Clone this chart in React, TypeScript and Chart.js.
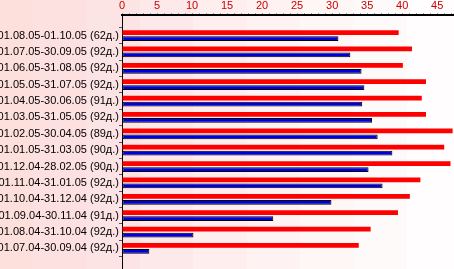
import React, { useEffect, useRef } from "react";
import { Chart, registerables } from "chart.js";

Chart.register(...registerables);

const periods: string[] = [
  "01.08.05-01.10.05 (62д.)",
  "01.07.05-30.09.05 (92д.)",
  "01.06.05-31.08.05 (92д.)",
  "01.05.05-31.07.05 (92д.)",
  "01.04.05-30.06.05 (91д.)",
  "01.03.05-31.05.05 (92д.)",
  "01.02.05-30.04.05 (89д.)",
  "01.01.05-31.03.05 (90д.)",
  "01.12.04-28.02.05 (90д.)",
  "01.11.04-31.01.05 (92д.)",
  "01.10.04-31.12.04 (92д.)",
  "01.09.04-30.11.04 (91д.)",
  "01.08.04-31.10.04 (92д.)",
  "01.07.04-30.09.04 (92д.)",
];

const redValues: number[] = [39.5, 41.4, 40.1, 43.4, 42.8, 43.4, 47.2, 46.0, 46.9, 42.6, 41.1, 39.4, 35.5, 33.8];
const blueValues: number[] = [30.9, 32.6, 34.2, 34.6, 34.3, 35.7, 36.5, 38.6, 35.2, 37.2, 29.9, 21.6, 10.2, 3.9];

const xMin = 0;
const xMax = 47.4;

const bandColors: string[] = [
  "#fde0dc",
  "#fde0e0",
  "#fde4e4",
  "#fde9e9",
  "#feeeee",
  "#fff2f2",
  "#fff6f6",
  "#fffafa",
  "#fffdfd",
];
const bandEdges: number[] = [0, 33, 87, 140, 193, 247, 300, 353, 407, 454];

const bgPlugin = {
  id: "bgBands",
  beforeDraw(chart: any) {
    const ctx = chart.ctx;
    ctx.save();
    for (let i = 0; i < bandColors.length; i++) {
      ctx.fillStyle = bandColors[i];
      ctx.fillRect(bandEdges[i], 0, bandEdges[i + 1] - bandEdges[i], chart.height);
    }
    ctx.restore();
  },
};

export default function App() {
  const ref = useRef<HTMLCanvasElement | null>(null);
  useEffect(() => {
    if (!ref.current) return;
    const chart = new Chart(ref.current, {
      type: "bar",
      data: {
        datasets: [
          {
            data: redValues.map((v, i) => ({ x: v, y: i })),
            backgroundColor: "#ff0000",
            borderWidth: 0,
            categoryPercentage: 0.73,
            barPercentage: 0.8,
          },
          {
            data: blueValues.map((v, i) => ({ x: v, y: i })),
            backgroundColor: "#0000dd",
            borderColor: "#000000",
            borderWidth: 1,
            borderSkipped: false,
            categoryPercentage: 0.73,
            barPercentage: 0.8,
          },
        ],
      },
      plugins: [bgPlugin],
      options: {
        indexAxis: "y",
        animation: false,
        responsive: false,
        devicePixelRatio: 1,
        layout: { padding: 0 },
        plugins: { legend: { display: false }, tooltip: { enabled: false } },
        scales: {
          x: {
            type: "linear",
            position: "top",
            min: xMin,
            max: xMax,
            afterFit: (s: any) => {
              s.height = 15;
              s.paddingLeft = 0;
              s.paddingRight = 0;
            },
            border: { display: true, color: "#000000", width: 2 },
            grid: { display: true, drawOnChartArea: false, drawTicks: true, tickLength: 2, color: "#999999" },
            ticks: {
              stepSize: 1,
              includeBounds: false,
              autoSkip: false,
              maxRotation: 0,
              padding: 0,
              color: "#cc0000",
              font: { family: "'Liberation Sans', Arial, sans-serif", size: 11 },
              callback: (v: any) => (Number(v) % 5 === 0 ? String(v) : ""),
            },
          },
          y: {
            type: "linear",
            reverse: true,
            min: -0.7,
            max: periods.length - 1 + 0.7,
            afterFit: (s: any) => {
              s.width = 122;
              s.paddingTop = 0;
              s.paddingBottom = 0;
            },
            border: { display: true, color: "#000000", width: 1 },
            grid: { display: true, drawOnChartArea: false, drawTicks: true, tickLength: 3, color: "#555555" },
            ticks: {
              stepSize: 1,
              includeBounds: false,
              autoSkip: false,
              padding: 0,
              color: "#000000",
              font: { family: "'Liberation Sans', Arial, sans-serif", size: 11 },
              callback: (v: any) => {
                const n = Number(v);
                return Number.isInteger(n) && n >= 0 && n < periods.length ? periods[n] : "";
              },
            },
          },
        },
      },
    });
    return () => chart.destroy();
  }, []);
  return (
    <div style={{ position: "fixed", left: 0, top: 0, width: 454, height: 269 }}>
      <canvas ref={ref} width={454} height={269} style={{ display: "block" }} />
    </div>
  );
}
